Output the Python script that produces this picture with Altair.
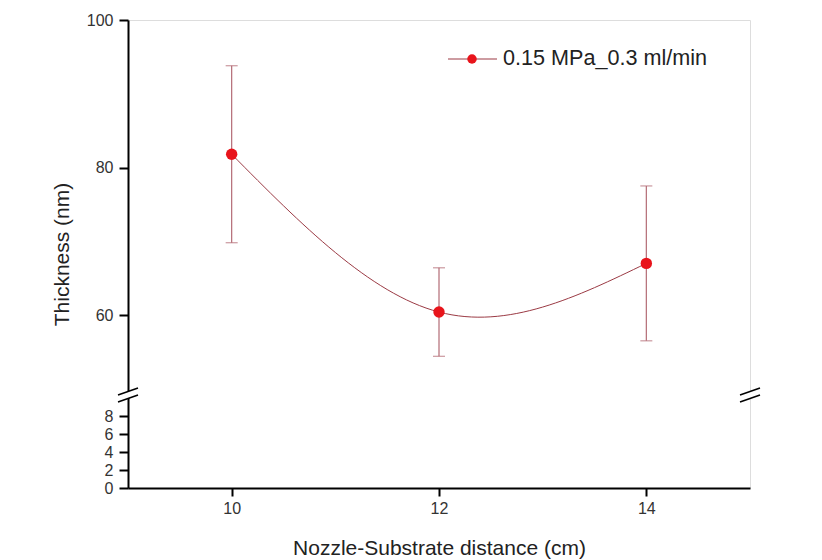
import altair as alt
import pandas as pd

# data
distance = [10, 12, 14]
thickness = [81.8, 60.4, 67.0]
err = [12.0, 6.0, 10.5]
series_name = "0.15 MPa_0.3 ml/min"

x_ticks = [10, 12, 14]
y_ticks = [0, 2, 4, 6, 8, 60, 80, 100]

df = pd.DataFrame({
    "x": distance,
    "y": thickness,
    "lo": [t - e for t, e in zip(thickness, err)],
    "hi": [t + e for t, e in zip(thickness, err)],
})

W, H = 622, 468
FONT = "Liberation Sans"
LINE_C = "#9b3a44"
ERR_C = "#b36b75"
PT_C = "#e8141b"

xs = alt.Scale(domain=[9, 15], nice=False, zero=False)
# broken axis: piecewise linear scale (0-10 lower segment, 50-100 upper segment)
ys = alt.Scale(domain=[0, 10, 50, 100], range=[468, 378, 368.75, 0], nice=False, zero=False)

XT = "Nozzle-Substrate distance (cm)"
YT = "Thickness (nm)"

xax = alt.Axis(values=x_ticks, title=XT, grid=False, format="d",
               labelFontSize=16, titleFontSize=21, labelColor="#333333", titleColor="#222222",
               tickSize=8, tickWidth=2, tickColor="black", domainColor="black", domainWidth=2,
               labelPadding=4, titlePadding=21, labelFont=FONT, titleFont=FONT, titleFontWeight="normal")
yax = alt.Axis(values=y_ticks, title=YT, grid=False, format="d",
               labelFontSize=16, titleFontSize=21, labelColor="#333333", titleColor="#222222",
               tickSize=9, tickWidth=2, tickColor="black", domainColor="black", domainWidth=2,
               labelPadding=6, titlePadding=14, labelFont=FONT, titleFont=FONT, titleFontWeight="normal",
               labelOverlap=False)

base = alt.Chart(df)

curve = base.mark_line(interpolate="natural", color=LINE_C, strokeWidth=1).encode(
    x=alt.X("x:Q", scale=xs, axis=xax, title=XT),
    y=alt.Y("y:Q", scale=ys, axis=yax, title=YT),
)

bar_v = base.mark_rule(color=ERR_C, strokeWidth=1.2).encode(
    x=alt.X("x:Q", scale=xs, axis=xax, title=XT),
    y=alt.Y("lo:Q", scale=ys, axis=yax, title=YT),
    y2="hi:Q",
)
cap_lo = base.mark_tick(color=ERR_C, thickness=1.2, size=12, orient="horizontal").encode(
    x=alt.X("x:Q", scale=xs, axis=xax, title=XT),
    y=alt.Y("lo:Q", scale=ys, axis=yax, title=YT),
)
cap_hi = base.mark_tick(color=ERR_C, thickness=1.2, size=12, orient="horizontal").encode(
    x=alt.X("x:Q", scale=xs, axis=xax, title=XT),
    y=alt.Y("hi:Q", scale=ys, axis=yax, title=YT),
)

pts = base.mark_circle(size=130, color=PT_C, opacity=1).encode(
    x=alt.X("x:Q", scale=xs, axis=xax, title=XT),
    y=alt.Y("y:Q", scale=ys, axis=yax, title=YT),
)

one = alt.Data(values=[{"k": 1}])

# legend drawn by hand
leg_line = alt.Chart(one).mark_rule(color=LINE_C, strokeWidth=1.2).encode(
    x=alt.value(320), x2=alt.value(369), y=alt.value(39))
leg_pt = alt.Chart(one).mark_circle(size=90, color=PT_C, opacity=1).encode(
    x=alt.value(344), y=alt.value(39))
leg_txt = alt.Chart(one).mark_text(text=series_name, align="left", baseline="middle",
                                   fontSize=21.6, font=FONT, color="#222222").encode(
    x=alt.value(375), y=alt.value(39))

# axis break marks
def brk(x0):
    gap = alt.Chart(one).mark_rect(color="white").encode(
        x=alt.value(x0 - 4), x2=alt.value(x0 + 4), y=alt.value(371), y2=alt.value(378))
    s1 = alt.Chart(one).mark_rule(color="black", strokeWidth=1.5).encode(
        x=alt.value(x0 - 10), x2=alt.value(x0 + 10), y=alt.value(375), y2=alt.value(368))
    s2 = alt.Chart(one).mark_rule(color="black", strokeWidth=1.5).encode(
        x=alt.value(x0 - 10), x2=alt.value(x0 + 10), y=alt.value(382), y2=alt.value(375))
    return [gap, s1, s2]

layers = [curve, bar_v, cap_lo, cap_hi, pts, leg_line, leg_pt, leg_txt] + brk(0) + brk(W)

chart = alt.layer(*layers).properties(
    width=W, height=H,
    autosize=alt.AutoSizeParams(type="none"),
    padding={"left": 128, "top": 20, "right": 72, "bottom": 72},
).configure_view(stroke="black", strokeWidth=2).configure(background="white")

chart.save("out.html", embed_options={"renderer": "svg", "actions": False})
